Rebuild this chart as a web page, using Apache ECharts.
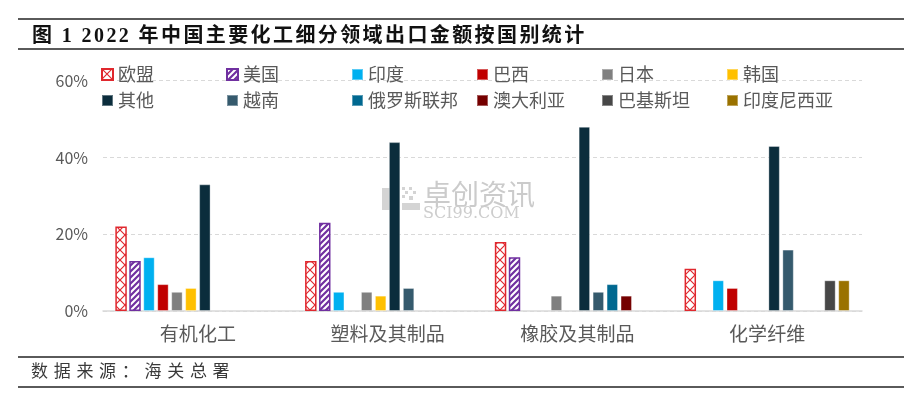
<!DOCTYPE html>
<html>
<head>
<meta charset="utf-8">
<title>2022年中国主要化工细分领域出口金额按国别统计</title>
<script src="https://cdn.jsdelivr.net/npm/echarts@6.0.0/dist/echarts.min.js"></script>
<style>
  html, body { margin: 0; padding: 0; background: #fff; }
  #wrap { position: relative; width: 919px; height: 396px; overflow: hidden; }
  #chart { position: absolute; left: 0; top: 0; width: 919px; height: 396px; }
  .rule { position: absolute; left: 18px; width: 886px; height: 2px; background: #5a5a5a; }
  .caption { position: absolute; white-space: nowrap; font-family: "Liberation Serif", "Noto Sans CJK SC", serif; }
</style>
</head>
<body>
<div id="wrap">
  <div id="chart"></div>
  <div class="rule" style="top:18px"></div>
  <div class="caption" style="left:32px; top:24px; font-size:20px; line-height:22px; font-weight:bold; color:#111; letter-spacing:2.4px;">图 1 2022 年中国主要化工细分领域出口金额按国别统计</div>
  <div class="rule" style="top:48px"></div>
  <div class="rule" style="top:356px"></div>
  <div class="caption" style="left:31px; top:362px; font-size:17px; line-height:19px; color:#3a3a3a; letter-spacing:5.7px;">数据来源：海关总署</div>
  <div class="rule" style="top:386px"></div>
</div>
<script>
// categories and countries
var categories = ['有机化工', '塑料及其制品', '橡胶及其制品', '化学纤维'];
var countries = ['欧盟', '美国', '印度', '巴西', '日本', '韩国',
                 '其他', '越南', '俄罗斯联邦', '澳大利亚', '巴基斯坦', '印度尼西亚'];
var yTicks = [0, 20, 40, 60];

// share of export value (%), one array per country, null = not shown
var euValues = [22, 13, 18, 11];
var usValues = [13, 23, 14, null];
var indiaValues = [14, 5, null, 8];
var brazilValues = [7, null, null, 6];
var japanValues = [5, 5, 4, null];
var koreaValues = [6, 4, null, null];
var otherValues = [33, 44, 48, 43];
var vietnamValues = [null, 6, 5, 16];
var russiaValues = [null, null, 7, null];
var australiaValues = [null, null, 4, null];
var pakistanValues = [null, null, null, 8];
var indonesiaValues = [null, null, null, 8];

var seriesValues = [euValues, usValues, indiaValues, brazilValues, japanValues, koreaValues,
                    otherValues, vietnamValues, russiaValues, australiaValues, pakistanValues, indonesiaValues];

var colors = ['#E0282E', '#7030A0', '#00B0F0', '#C00000', '#808080', '#FFC000',
              '#0B2D3C', '#355A6D', '#006890', '#750000', '#474747', '#9A7200'];

// cross hatch (欧盟) and diagonal stripes (美国)
function makePattern(kind, color) {
    var c = document.createElement('canvas');
    var ctx = c.getContext('2d');
    if (kind === 'cross') {
        c.width = 10; c.height = 10;
        ctx.fillStyle = '#fff';
        ctx.fillRect(0, 0, 10, 10);
        ctx.strokeStyle = color;
        ctx.lineWidth = 1.2;
        ctx.beginPath();
        ctx.moveTo(0, 0); ctx.lineTo(10, 10);
        ctx.moveTo(10, 0); ctx.lineTo(0, 10);
        ctx.stroke();
    } else {
        c.width = 6; c.height = 6;
        ctx.fillStyle = '#fff';
        ctx.fillRect(0, 0, 6, 6);
        ctx.strokeStyle = color;
        ctx.lineWidth = 2.2;
        ctx.beginPath();
        ctx.moveTo(-1, 7); ctx.lineTo(7, -1);
        ctx.moveTo(-4, 4); ctx.lineTo(4, -4);
        ctx.moveTo(2, 10); ctx.lineTo(10, 2);
        ctx.stroke();
    }
    return { image: c, repeat: 'repeat' };
}

var series = countries.map(function (name, i) {
    var style = { color: colors[i], borderColor: 'rgba(255,255,255,0.35)', borderWidth: 1 };
    if (i === 0) style = { color: makePattern('cross', colors[0]), borderColor: colors[0], borderWidth: 1.5 };
    if (i === 1) style = { color: makePattern('stripe', colors[1]), borderColor: colors[1], borderWidth: 1.5 };
    return {
        name: name,
        type: 'bar',
        data: seriesValues[i],
        barGap: '22%',
        barCategoryGap: '13%',
        itemStyle: style,
        z: 2
    };
});

var fontFamily = '"Noto Sans CJK SC", "Noto Sans", sans-serif';

// one legend per country so the 6 columns line up like the original
var legends = countries.map(function (name, i) {
    return {
        data: [name],
        left: 101 + (i % 6) * 125,
        top: 64 + Math.floor(i / 6) * 26,
        padding: 0,
        itemWidth: 11,
        itemHeight: 11,
        icon: 'rect',
        textStyle: { color: '#595959', fontSize: 18, lineHeight: 21, fontFamily: fontFamily }
    };
});

var logoGrey = '#d4d4d4';
var option = {
    animation: false,
    textStyle: { fontFamily: fontFamily },
    grid: { left: 103, right: 57, top: 80.7, bottom: 85, containLabel: false },
    legend: legends,
    xAxis: {
        type: 'category',
        data: categories,
        axisLine: { lineStyle: { color: '#d9d9d9', width: 1.5 } },
        axisTick: { show: false },
        axisLabel: { color: '#595959', fontSize: 19, margin: 13 }
    },
    yAxis: {
        type: 'value',
        min: yTicks[0],
        max: yTicks[yTicks.length - 1],
        interval: 20,
        axisLine: { show: false },
        axisTick: { show: false },
        axisLabel: { color: '#595959', fontSize: 16, margin: 15, formatter: '{value}%' },
        splitLine: { lineStyle: { color: '#d9d9d9', type: [4, 3] } }
    },
    graphic: [
        { type: 'rect', z: 0, shape: { x: 382, y: 188, width: 13, height: 22 }, style: { fill: logoGrey } },
        { type: 'rect', z: 0, shape: { x: 402, y: 187, width: 3, height: 3 }, style: { fill: logoGrey } },
        { type: 'rect', z: 0, shape: { x: 409, y: 187, width: 3, height: 3 }, style: { fill: logoGrey } },
        { type: 'rect', z: 0, shape: { x: 405, y: 191, width: 3, height: 3 }, style: { fill: logoGrey } },
        { type: 'rect', z: 0, shape: { x: 413, y: 191, width: 3, height: 3 }, style: { fill: logoGrey } },
        { type: 'rect', z: 0, shape: { x: 402, y: 195, width: 3, height: 3 }, style: { fill: logoGrey } },
        { type: 'rect', z: 0, shape: { x: 409, y: 196, width: 4, height: 4 }, style: { fill: logoGrey } },
        { type: 'rect', z: 0, shape: { x: 402, y: 203, width: 18, height: 7 }, style: { fill: logoGrey } },
        { type: 'text', z: 0, left: 423, top: 180, style: { text: '卓创资讯', fill: '#cbcbcb', fontSize: 28, fontFamily: fontFamily } },
        { type: 'text', z: 0, left: 423, top: 206, style: { text: 'SCI99.COM', fill: '#cdcdcd', fontSize: 16, fontFamily: '"DejaVu Serif", serif' } }
    ],
    series: series
};

var chart = echarts.init(document.getElementById('chart'));
chart.setOption(option);
</script>
</body>
</html>
